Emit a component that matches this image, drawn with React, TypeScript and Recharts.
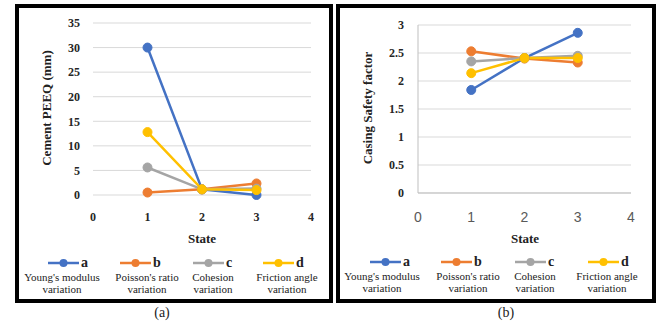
import React from "react"
import { LineChart, Line, XAxis, YAxis, CartesianGrid } from "recharts"

// shared x values (state)
const states = [1, 2, 3]

// panel (a): Cement PEEQ (mm)
const peeqA = [30, 1.15, 0]
const peeqB = [0.5, 1.15, 2.35]
const peeqC = [5.6, 1.15, 1.3]
const peeqD = [12.8, 1.15, 1.0]

// panel (b): Casing safety factor
const sfA = [1.84, 2.41, 2.86]
const sfB = [2.53, 2.4, 2.33]
const sfC = [2.35, 2.41, 2.45]
const sfD = [2.14, 2.41, 2.41]

const xTicks = [0, 1, 2, 3, 4]
const peeqTicks = [0, 5, 10, 15, 20, 25, 30, 35]
const sfTicks = [0, 0.5, 1, 1.5, 2, 2.5, 3]

const seriesKeys = ["a", "b", "c", "d"]
const seriesColors = ["#4472C4", "#ED7D31", "#A5A5A5", "#FFC000"]
const seriesLabels = [
  ["Young's modulus", "variation"],
  ["Poisson's ratio", "variation"],
  ["Cohesion", "variation"],
  ["Friction angle", "variation"],
]

const buildRows = (cols: number[][]) =>
  states.map((s, i) => ({
    state: s,
    a: cols[0][i],
    b: cols[1][i],
    c: cols[2][i],
    d: cols[3][i],
  }))

const peeqRows = buildRows([peeqA, peeqB, peeqC, peeqD])
const sfRows = buildRows([sfA, sfB, sfC, sfD])

const SERIF = "Liberation Serif"

const LegendRow = ({
  lineX,
  labelX,
  y,
}: {
  lineX: number[]
  labelX: number[]
  y: number
}) => (
  <>
    {seriesKeys.map((k, i) => (
      <React.Fragment key={k}>
        <div style={{ position: "absolute", left: lineX[i], top: y - 9, height: 18, display: "flex", alignItems: "center" }}>
          <svg width={31} height={18}>
            <line x1={0} y1={9} x2={31} y2={9} stroke={seriesColors[i]} strokeWidth={2.5} />
            <circle cx={15.5} cy={9} r={4} fill={seriesColors[i]} />
          </svg>
          <span style={{ fontFamily: SERIF, fontWeight: "bold", fontSize: 14, marginLeft: 2, color: "#222", lineHeight: "18px" }}>
            {k}
          </span>
        </div>
        <div
          style={{
            position: "absolute",
            left: labelX[i] - 50,
            width: 100,
            top: y + 8,
            textAlign: "center",
            fontFamily: SERIF,
            fontSize: 11,
            lineHeight: "12px",
            color: "#222",
          }}
        >
          {seriesLabels[i][0]}
          <br />
          {seriesLabels[i][1]}
        </div>
      </React.Fragment>
    ))}
  </>
)

const App: React.FC = () => {
  const boldTick = { fontFamily: SERIF, fontWeight: "bold", fontSize: 12, fill: "#262626" }
  const title = {
    position: "absolute" as const,
    width: 160,
    height: 18,
    lineHeight: "18px",
    textAlign: "center" as const,
    transform: "rotate(-90deg)",
    fontFamily: SERIF,
    fontWeight: "bold",
    fontSize: 13,
    color: "#222",
  }
  const plain = {
    position: "absolute" as const,
    textAlign: "center" as const,
    fontFamily: SERIF,
    lineHeight: "18px",
    color: "#222",
  }
  return (
    <div style={{ position: "absolute", left: 0, top: 0, width: 666, height: 322, background: "#fff", overflow: "hidden", fontFamily: SERIF }}>
      {/* panel frames */}
      <div style={{ position: "absolute", left: 15, top: 4, width: 318, height: 299, border: "4px solid #000", boxSizing: "border-box" }} />
      <div style={{ position: "absolute", left: 336, top: 4, width: 320, height: 299, border: "4px solid #000", boxSizing: "border-box" }} />

      {/* (a) */}
      <div style={{ position: "absolute", left: 0, top: 0 }}>
        <LineChart width={333} height={322} data={peeqRows} margin={{ top: 23, right: 22, left: 20, bottom: 97 }}>
          <CartesianGrid vertical={false} stroke="#d9d9d9" />
          <XAxis
            dataKey="state"
            type="number"
            domain={[0, 4]}
            ticks={xTicks}
            axisLine={false}
            tickLine={false}
            tickSize={0}
            tickMargin={17}
            height={30}
            tick={boldTick}
          />
          <YAxis
            type="number"
            domain={[0, 35]}
            ticks={peeqTicks}
            width={73}
            axisLine={false}
            tickLine={false}
            tickSize={0}
            tickMargin={13}
            tick={boldTick}
          />
          {seriesKeys.map((k, i) => (
            <Line
              key={k}
              type="linear"
              dataKey={k}
              stroke={seriesColors[i]}
              strokeWidth={2.5}
              dot={{ r: 4.5, fill: seriesColors[i], stroke: seriesColors[i], strokeWidth: 1 }}
              isAnimationActive={false}
            />
          ))}
        </LineChart>
      </div>

      {/* (b) */}
      <div style={{ position: "absolute", left: 333, top: 0 }}>
        <LineChart width={333} height={322} data={sfRows} margin={{ top: 25, right: 35, left: 20, bottom: 99 }}>
          <CartesianGrid vertical={false} stroke="#d9d9d9" />
          <XAxis
            dataKey="state"
            type="number"
            domain={[0, 4]}
            ticks={xTicks}
            axisLine={{ stroke: "#bfbfbf" }}
            tickLine={false}
            tickSize={0}
            tickMargin={19}
            height={30}
            tick={{ fontFamily: "Liberation Sans", fontSize: 14, fill: "#595959" }}
          />
          <YAxis
            type="number"
            domain={[0, 3]}
            ticks={sfTicks}
            width={65}
            axisLine={{ stroke: "#bfbfbf" }}
            tickLine={false}
            tickSize={0}
            tickMargin={14}
            tick={boldTick}
          />
          {seriesKeys.map((k, i) => (
            <Line
              key={k}
              type="linear"
              dataKey={k}
              stroke={seriesColors[i]}
              strokeWidth={2.5}
              dot={{ r: 4.5, fill: seriesColors[i], stroke: seriesColors[i], strokeWidth: 1 }}
              isAnimationActive={false}
            />
          ))}
        </LineChart>
      </div>

      {/* axis titles */}
      <div style={{ ...title, left: 47 - 80, top: 108 - 9 }}>Cement PEEQ (mm)</div>
      <div style={{ ...title, left: 368 - 80, top: 108 - 9 }}>Casing Safety factor</div>
      <div style={{ ...plain, left: 162, top: 230, width: 80, fontWeight: "bold", fontSize: 13 }}>State</div>
      <div style={{ ...plain, left: 485, top: 230, width: 80, fontWeight: "bold", fontSize: 13 }}>State</div>

      {/* legends */}
      <LegendRow lineX={[48, 120, 193, 263]} labelX={[62, 147, 213, 287]} y={263} />
      <LegendRow lineX={[370, 441, 515, 588]} labelX={[382, 468, 535, 607]} y={262} />

      {/* captions */}
      <div style={{ ...plain, left: 132, top: 304, width: 60, fontSize: 14 }}>(a)</div>
      <div style={{ ...plain, left: 476, top: 304, width: 60, fontSize: 14 }}>(b)</div>
    </div>
  )
}

export default App
